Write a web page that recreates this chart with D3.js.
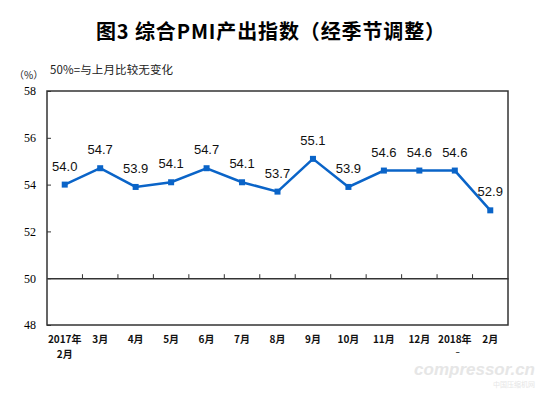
<!DOCTYPE html>
<html>
<head>
<meta charset="utf-8">
<script src="https://cdn.jsdelivr.net/npm/d3@7"></script>
<style>
  body { margin: 0; background: #fff; }
  svg { display: block; }
</style>
</head>
<body>
<div id="chart"></div>
<script>
// chart data
const months = ["2017年|2月", "3月", "4月", "5月", "6月", "7月", "8月", "9月", "10月", "11月", "12月", "2018年|–", "2月"];
const pmiValues = [54.0, 54.7, 53.9, 54.1, 54.7, 54.1, 53.7, 55.1, 53.9, 54.6, 54.6, 54.6, 52.9];
const yTicks = [48, 50, 52, 54, 56, 58];
const baseLine = 50;

const W = 553, H = 396;
const margin = {left: 47, right: 45, top: 91, bottom: 71};

const svg = d3.select("#chart").append("svg")
  .attr("width", W).attr("height", H);

const x = d3.scaleBand()
  .domain(d3.range(months.length))
  .range([margin.left, W - margin.right])
  .padding(0);

const y = d3.scaleLinear()
  .domain([48, 58])
  .range([H - margin.bottom, margin.top]);

// title
svg.append("text")
  .attr("x", 96).attr("y", 39)
  .attr("textLength", 349).attr("lengthAdjust", "spacing")
  .style("font-family", "'Noto Sans CJK SC', sans-serif")
  .style("font-weight", "bold")
  .style("font-size", "20px")
  .style("fill", "#000")
  .text("图3 综合PMI产出指数（经季节调整）");

svg.append("text")
  .attr("x", 14).attr("y", 79)
  .style("font-family", "'Noto Sans CJK SC', sans-serif")
  .style("font-size", "10px")
  .style("fill", "#222")
  .text("（%）");

svg.append("text")
  .attr("x", 50).attr("y", 74)
  .attr("textLength", 123).attr("lengthAdjust", "spacing")
  .style("font-family", "'Noto Sans CJK SC', sans-serif")
  .style("font-size", "11.5px")
  .style("fill", "#222")
  .text("50%=与上月比较无变化");

// y axis: ticks inside the frame
const yAxis = d3.axisLeft(y).tickValues(yTicks).tickSize(-4).tickPadding(11)
  .tickFormat(d3.format("d"));
const gy = svg.append("g")
  .attr("transform", `translate(${margin.left},0)`)
  .call(yAxis);
gy.select(".domain").remove();
gy.selectAll("line").attr("stroke", "#333");
gy.selectAll("text")
  .style("font-family", "'Liberation Serif', serif")
  .style("font-size", "12px")
  .style("fill", "#000");

// frame
svg.append("rect")
  .attr("x", margin.left).attr("y", margin.top)
  .attr("width", W - margin.left - margin.right)
  .attr("height", H - margin.top - margin.bottom)
  .attr("fill", "none")
  .attr("stroke", "#333")
  .attr("stroke-width", 1.5);

// category axis sits on the 50 line, ticks upward at band edges
const xAxis = d3.axisBottom(x).tickSize(0).tickFormat("");
const gx = svg.append("g")
  .attr("transform", `translate(0,${y(baseLine)})`)
  .call(xAxis);
gx.select(".domain").attr("stroke", "#333").attr("stroke-width", 1.5);
gx.selectAll(".tick").remove();
gx.selectAll(".edge")
  .data(d3.range(1, months.length))
  .enter().append("line")
    .attr("x1", d => x(d)).attr("x2", d => x(d))
    .attr("y1", 0).attr("y2", -4)
    .attr("stroke", "#333");

// category labels below the frame, one text per line
const labelLines = [];
months.forEach((m, i) => {
  m.split("|").forEach((p, k) => labelLines.push({text: p, i: i, k: k}));
});

svg.append("g").selectAll("text")
  .data(labelLines)
  .enter().append("text")
    .attr("text-anchor", "middle")
    .attr("x", d => x(d.i) + x.bandwidth() / 2 + (d.text === "–" ? 3 : 0))
    .attr("y", d => 343 + d.k * (d.text === "–" ? 11 : 15))
    .style("font-family", d => d.text === "–" ? "'Liberation Sans', sans-serif" : "'Noto Sans CJK SC', sans-serif")
    .style("font-weight", "bold")
    .style("font-size", d => d.text === "–" ? "7px" : "10px")
    .style("fill", "#111")
    .text(d => d.text);

// line + markers
const line = d3.line()
  .x((d, i) => x(i) + x.bandwidth() / 2)
  .y(d => y(d));

svg.append("path")
  .datum(pmiValues)
  .attr("d", line)
  .attr("fill", "none")
  .attr("stroke", "#0a64c8")
  .attr("stroke-width", 2.5);

svg.selectAll("rect.pt")
  .data(pmiValues)
  .enter().append("rect")
    .attr("class", "pt")
    .attr("x", (d, i) => x(i) + x.bandwidth() / 2 - 3)
    .attr("y", d => y(d) - 3)
    .attr("width", 6).attr("height", 6)
    .attr("fill", "#0a64c8");

svg.selectAll("text.val")
  .data(pmiValues)
  .enter().append("text")
    .attr("class", "val")
    .attr("x", (d, i) => x(i) + x.bandwidth() / 2)
    .attr("y", d => y(d) - 14)
    .attr("text-anchor", "middle")
    .style("font-family", "'Liberation Sans', Arial, sans-serif")
    .style("font-size", "13px")
    .style("fill", "#111")
    .text(d => d3.format(".1f")(d));

// faint watermark
svg.append("text")
  .attr("x", 535).attr("y", 375)
  .attr("text-anchor", "end")
  .style("font-family", "'Liberation Sans', sans-serif")
  .style("font-weight", "bold")
  .style("font-style", "italic")
  .style("font-size", "17px")
  .style("fill", "#e6e6e6")
  .text("compressor.cn");
svg.append("text")
  .attr("x", 535).attr("y", 387)
  .attr("text-anchor", "end")
  .style("font-family", "'Noto Sans CJK SC', sans-serif")
  .style("font-size", "7px")
  .style("fill", "#e6e6e6")
  .text("中国压缩机网");
</script>
</body>
</html>
